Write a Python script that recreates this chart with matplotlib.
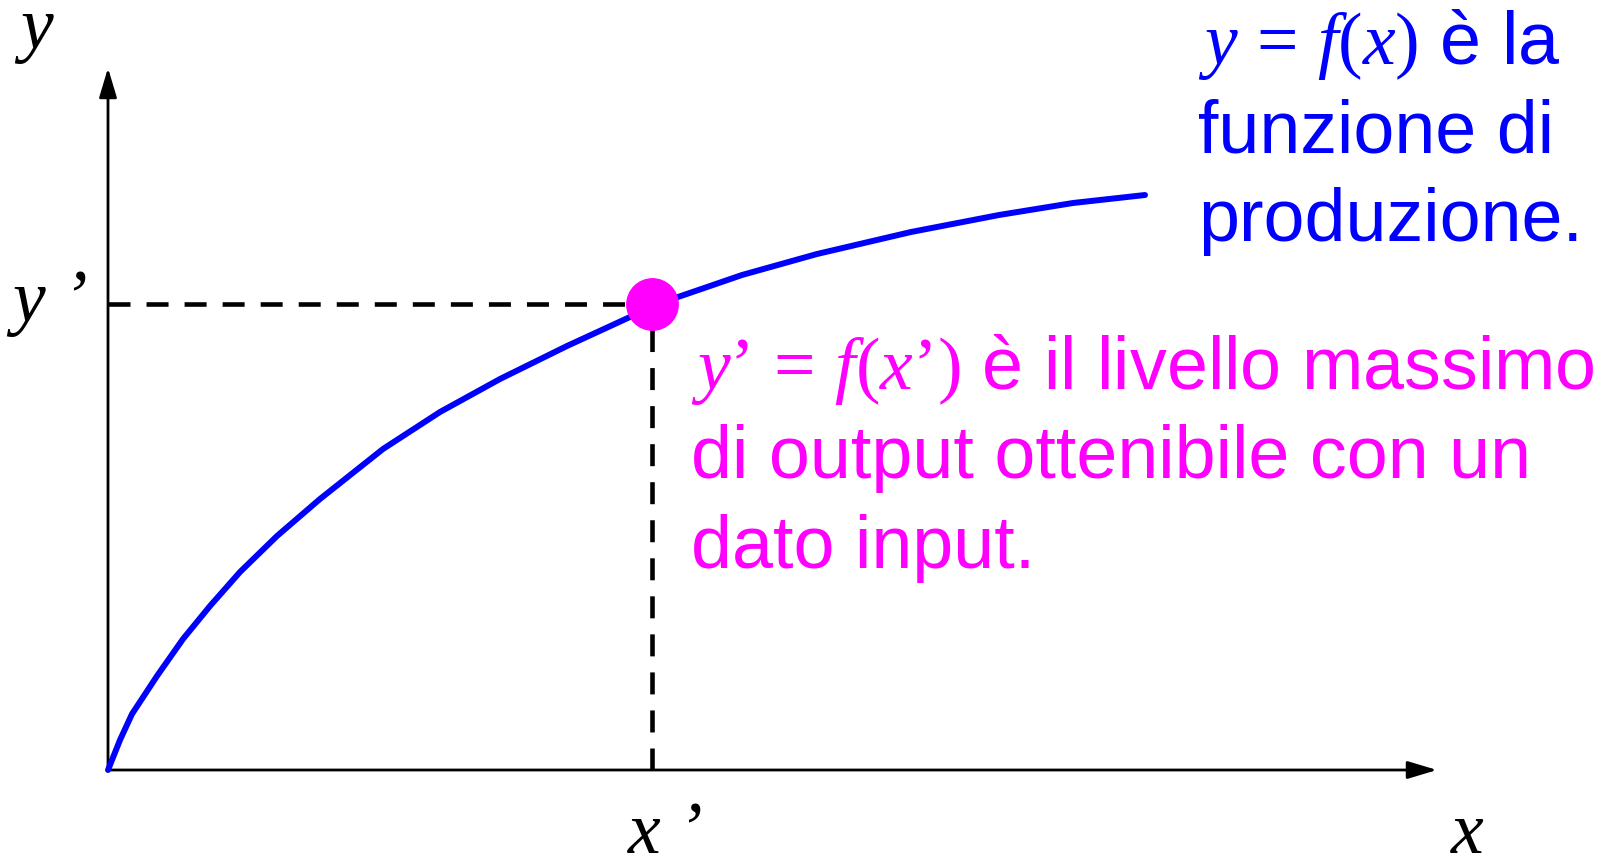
import matplotlib
matplotlib.use('Agg')
import matplotlib.pyplot as plt
from matplotlib.patches import FancyArrowPatch

plt.rcParams['mathtext.fontset'] = 'custom'
plt.rcParams['mathtext.it'] = 'Liberation Serif:italic'
plt.rcParams['mathtext.rm'] = 'Liberation Serif'

# production function (x = input, y = output)
x_curve = [0, 0.12, 0.24, 0.49, 0.75, 1.02, 1.32, 1.69, 2.12, 2.75, 3.32, 3.92,
           4.59, 5.22, 5.70, 6.34, 7.09, 8.03, 8.91, 9.65, 10.37]
y_curve = [0, 0.30, 0.56, 0.94, 1.31, 1.64, 1.98, 2.34, 2.71, 3.21, 3.58, 3.91,
           4.24, 4.53, 4.73, 4.95, 5.16, 5.38, 5.55, 5.67, 5.75]

# chosen point (x', y')
x_prime = 5.44
y_prime = 4.66

x_axis_end = 13.29
y_axis_end = 7.02

blue_lines = [r"$y\,=\,f\mathrm{(}x\mathrm{)}$ è la", "funzione di", "produzione."]
pink_lines = [r"$y’\,=\,f\mathrm{(}x’\mathrm{)}$ è il livello massimo",
              "di output ottenibile con un", "dato input."]

BLUE = '#0000ff'
PINK = '#ff00ff'

fig = plt.figure(figsize=(16.21, 8.62), dpi=100)
ax = fig.add_axes([0, 0, 1, 1])
ax.set_xlim(-1.08, 15.13)
ax.set_ylim(-0.91, 7.71)
ax.axis('off')

# axes with arrows
for end in [(x_axis_end, 0), (0, y_axis_end)]:
    ax.add_patch(FancyArrowPatch((0, 0), end, arrowstyle='-|>,head_length=0.9,head_width=0.27',
                                 mutation_scale=20, lw=2, color='black', shrinkA=0, shrinkB=0))

# dashed guides
ax.plot([0, x_prime], [y_prime, y_prime], color='black', lw=3.3, dashes=(4.8, 3.5))
ax.plot([x_prime, x_prime], [0, y_prime], color='black', lw=3.3, dashes=(4.8, 3.5))

# curve and point
ax.plot(x_curve, y_curve, color=BLUE, lw=4.3, solid_capstyle='round', solid_joinstyle='round')
ax.plot([x_prime], [y_prime], 'o', color=PINK, markersize=37, zorder=5)

# axis labels
serif = dict(family='Liberation Serif', style='italic', fontsize=53, color='black')
ax.text(-0.72, 7.23, 'y', ha='center', va='baseline', **serif)
ax.text(-0.58, 4.50, 'y ’', ha='center', va='baseline', **serif)
ax.text(5.58, -0.82, 'x ’', ha='center', va='baseline', **serif)
ax.text(13.59, -0.82, 'x', ha='center', va='baseline', **serif)

# annotations
for i, line in enumerate(blue_lines):
    ax.text(10.9, 7.07 - 0.885 * i, line, ha='left', va='baseline',
            family='Liberation Sans', fontsize=53, color=BLUE)
for i, line in enumerate(pink_lines):
    ax.text(5.83, 3.82 - 0.895 * i, line, ha='left', va='baseline',
            family='Liberation Sans', fontsize=53, color=PINK)

fig.savefig('out.png', dpi=100)
